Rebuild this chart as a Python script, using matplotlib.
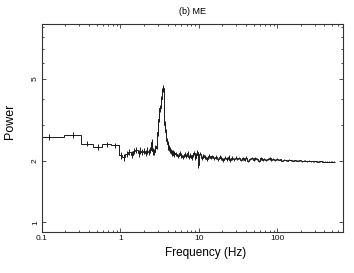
import numpy as np
import matplotlib
matplotlib.use("Agg")
import matplotlib.pyplot as plt
from matplotlib.ticker import FixedLocator, NullFormatter, LogLocator, FixedFormatter

plt.rcParams['font.family'] = ['Liberation Sans', 'DejaVu Sans']

# ---- data: low-frequency broad bins (Hz) ----
edges_low = [0.08, 0.19, 0.32, 0.45, 0.59, 0.76, 0.96]
power_low = [2.62, 2.66, 2.42, 2.33, 2.40, 2.38]
err_low = [0.09, 0.09, 0.07, 0.07, 0.07, 0.07]

# ---- 1-3 Hz bins ----
edges_mid = [0.96, 1.06, 1.16, 1.26, 1.36, 1.46, 1.56, 1.66, 1.76, 1.86,
             1.96, 2.06, 2.16, 2.26, 2.36, 2.46, 2.56, 2.66, 2.76, 2.86]
power_mid = [2.12, 2.08, 2.16, 2.20, 2.14, 2.23, 2.26, 2.17, 2.24, 2.20,
             2.23, 2.18, 2.24, 2.20, 2.25, 2.46, 2.22, 2.20, 2.30]
err_mid = [0.08] * 19

# ---- QPO peak region ----
edges_qpo = [2.86, 2.96, 3.06, 3.16, 3.26, 3.36, 3.46, 3.56, 3.66, 3.76, 3.86,
             3.96, 4.06, 4.16, 4.26, 4.36, 4.46, 4.56, 4.66, 4.76, 4.86, 4.96]
power_qpo = [2.35, 2.75, 3.20, 3.60, 4.00, 4.35, 4.50, 3.50, 3.00, 2.75, 2.50,
             2.40, 2.32, 2.30, 2.25, 2.22, 2.20, 2.16, 2.20, 2.14, 2.18]
err_qpo = [0.08, 0.10, 0.12, 0.14, 0.15, 0.16, 0.16, 0.14, 0.12, 0.10, 0.09,
           0.08, 0.07, 0.07, 0.07, 0.07, 0.06, 0.06, 0.06, 0.06, 0.06]

# ---- high-frequency bins ----
edges_high = [4.96, 5.25, 5.55, 5.85, 6.15, 6.45, 6.75, 7.05, 7.35, 7.65, 7.95,
              8.25, 8.55, 8.85, 9.15, 9.45, 9.75, 10.1, 10.6, 11.2, 11.8, 12.4,
              13.1, 13.8, 14.5, 15.3, 16.1, 17.0, 17.9, 18.9, 19.9, 21.0, 22.1,
              23.3, 24.6, 25.9, 27.3, 28.8, 30.3, 32.0, 33.7, 35.5, 37.4, 39.4,
              41.6, 43.8, 46.2, 48.7, 51.3, 54.1, 57.0, 60.1, 63.3, 66.7, 70.3,
              74.1, 78.1, 82.3, 86.7, 91.4, 96.3, 101, 107, 113, 119, 125, 132,
              139, 147, 155, 163, 172, 181, 191, 201, 212, 223, 235, 248, 261,
              275, 290, 306, 322, 340, 358, 377, 398, 419, 442, 466, 491, 520, 550]
power_high = [2.15, 2.10, 2.18, 2.12, 2.08, 2.16, 2.11, 2.19, 2.09, 2.14, 2.07,
              2.13, 2.17, 2.06, 2.12, 2.20, 1.90,
              2.16, 2.06, 2.12, 2.08, 2.04, 2.11, 2.07, 2.10, 2.05, 2.08, 2.03,
              2.09, 2.06, 2.01, 2.07, 2.04, 2.08, 2.02, 2.06, 2.03, 2.07,
              2.03, 2.06, 2.01, 2.05, 2.02, 2.07, 2.00, 2.04, 2.06, 2.01, 2.05,
              2.03, 2.00, 2.05, 2.02, 2.04, 2.01, 2.03, 2.05, 2.02, 2.03, 2.01, 2.04,
              2.02, 2.03, 2.00, 2.02, 2.01, 2.00, 2.02, 2.01, 2.00, 2.01, 2.00,
              2.00, 2.01, 1.99, 2.00, 2.00, 1.99, 2.00, 1.99, 1.99, 1.99, 1.99,
              1.98, 1.99, 1.99, 1.98, 1.98, 1.98, 1.98, 1.98, 1.98, 1.98]
err_high = [0.05] * 17 + [0.04] * 21 + [0.025] * 23 + [0.012] * 32

title = "(b) ME"
xlabel = "Frequency (Hz)"
ylabel = "Power"
xticks = [0.1, 1, 10, 100]
xtick_labels = ["0.1", "1", "10", "100"]
yticks = [1, 2, 5]
ytick_labels = ["1", "2", "5"]
yminor = [3, 4, 6, 7, 8, 9]

LC = '#1a1a1a'

fig = plt.figure(figsize=(3.54, 2.73), dpi=100)
ax = fig.add_axes([0.118, 0.149, 0.850, 0.764])

all_edges = [edges_low, edges_mid, edges_qpo, edges_high]
all_pow = [power_low, power_mid, power_qpo, power_high]
all_err = [err_low, err_mid, err_qpo, err_high]

for e, p in zip(all_edges, all_pow):
    ax.stairs(p, e, color=LC, lw=0.7, baseline=None)

# connect segments vertically where they meet
for i in range(len(all_edges) - 1):
    ax.plot([all_edges[i][-1], all_edges[i][-1]],
            [all_pow[i][-1], all_pow[i + 1][0]], color=LC, lw=0.7)

for e, p, er in zip(all_edges, all_pow, all_err):
    e = np.asarray(e)
    c = np.sqrt(e[:-1] * e[1:])
    ax.errorbar(c, p, yerr=er, fmt='none', ecolor=LC, elinewidth=0.7, capsize=0)

ax.set_xscale('log')
ax.set_yscale('log')
ax.set_xlim(0.1, 682)
ax.set_ylim(0.894, 9.3)

ax.xaxis.set_major_locator(FixedLocator(xticks))
ax.xaxis.set_major_formatter(FixedFormatter(xtick_labels))
ax.xaxis.set_minor_locator(LogLocator(base=10, subs=np.arange(2, 10)))
ax.xaxis.set_minor_formatter(NullFormatter())
ax.yaxis.set_major_locator(FixedLocator(yticks))
ax.yaxis.set_major_formatter(FixedFormatter(ytick_labels))
ax.yaxis.set_minor_locator(FixedLocator(yminor))
ax.yaxis.set_minor_formatter(NullFormatter())

ax.tick_params(which='both', direction='in', top=True, right=True,
               color='#333333', width=0.6, labelsize=6, labelcolor='#111111')
ax.tick_params(which='major', length=3, pad=2)
ax.tick_params(which='minor', length=1.6)
ax.tick_params(axis='y', labelrotation=90)
for lab in ax.get_yticklabels():
    lab.set_va('center')

for s in ax.spines.values():
    s.set_color('#333333')
    s.set_linewidth(0.8)

ax.set_title(title, fontsize=6.5, pad=7)
ax.set_xlabel(xlabel, fontsize=8.5, labelpad=1)
ax.xaxis.set_label_coords(0.543, -0.07)
ax.set_ylabel(ylabel, fontsize=9, labelpad=4)
ax.yaxis.set_label_coords(-0.085, 0.53)

fig.savefig('out.png', dpi=100)
